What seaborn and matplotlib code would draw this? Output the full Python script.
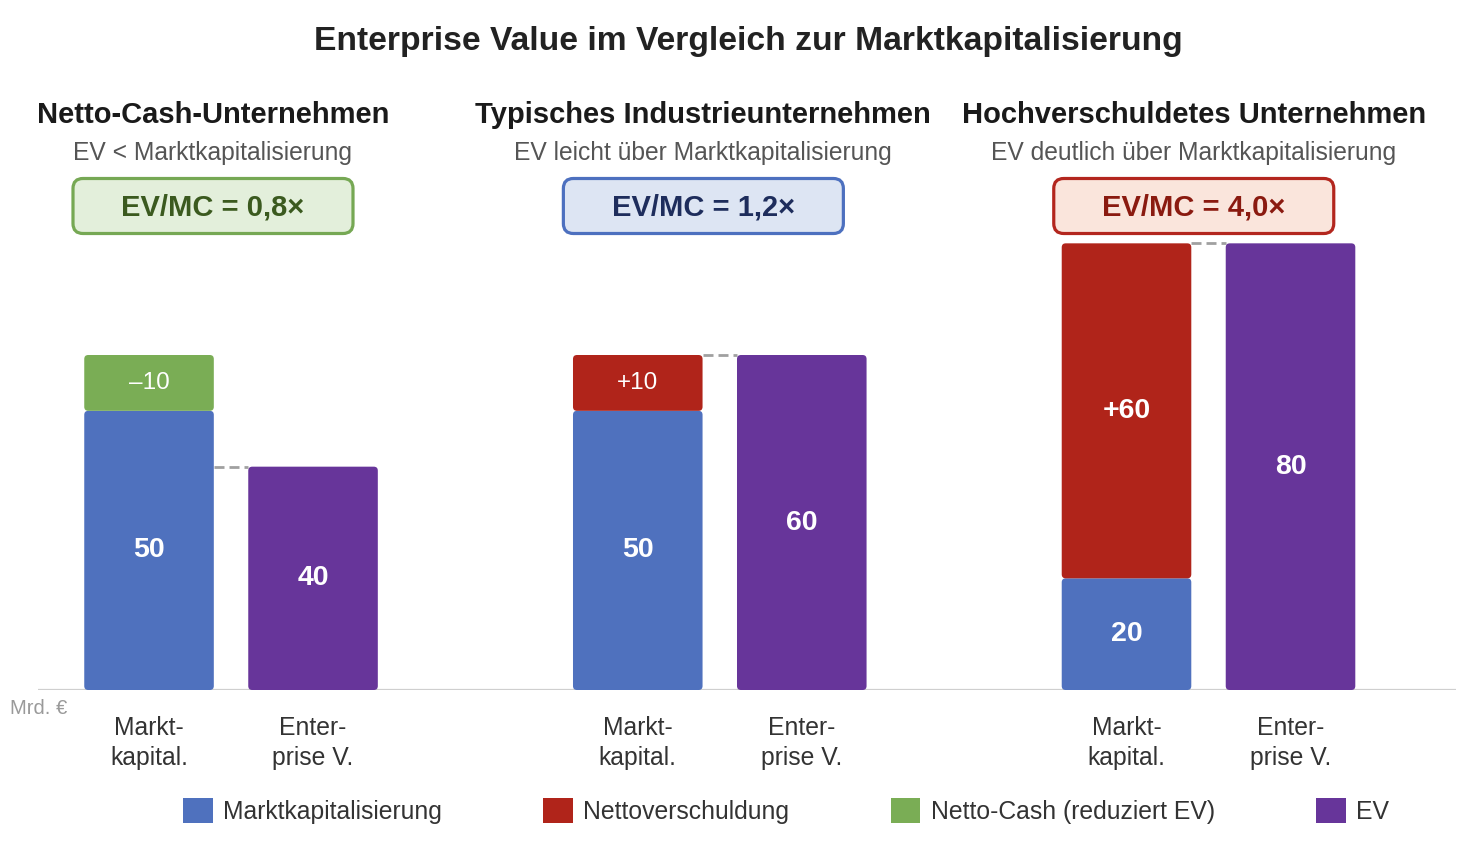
import numpy as np
import pandas as pd
import seaborn as sns
import matplotlib.pyplot as plt
from matplotlib.patches import FancyBboxPatch, Patch

GROUPS = ["Netto-Cash-Unternehmen", "Typisches Industrieunternehmen", "Hochverschuldetes Unternehmen"]
SUBTITLES = ["EV < Marktkapitalisierung", "EV leicht über Marktkapitalisierung",
             "EV deutlich über Marktkapitalisierung"]
RATIOS = ["EV/MC = 0,8×", "EV/MC = 1,2×", "EV/MC = 4,0×"]
MARKET_CAP = [50, 50, 20]
NET_DEBT = [-10, 10, 60]
EV = [40, 60, 80]
BAR_LABELS = ["Markt-\nkapital.", "Enter-\nprise V."]
SERIES = ["Marktkapitalisierung", "Nettoverschuldung", "Netto-Cash (reduziert EV)", "EV"]

COLORS = {
    "Marktkapitalisierung": "#4F71BE",
    "Nettoverschuldung": "#B0241A",
    "Netto-Cash (reduziert EV)": "#7AAD55",
    "EV": "#67359A",
}
# fill, edge, text colour of the EV/MC boxes
BOX_COLORS = [("#E3EFDB", "#76A854", "#3B5A1F"),
              ("#DDE5F3", "#4D70BF", "#1E2D5C"),
              ("#FAE5DC", "#B3261E", "#8A1A10")]

GROUP_STEP = 2.98
BAR_W = 0.79

sns.set_theme(style="white")
plt.rcParams["font.family"] = ["Liberation Sans", "DejaVu Sans"]

fig = plt.figure(figsize=(14.76, 8.56), dpi=100)
ax = fig.add_axes([38 / 1476, 166 / 856, 1418 / 1476, 603 / 856])

mc_x = [g * GROUP_STEP for g in range(3)]
ev_x = [g * GROUP_STEP + 1 for g in range(3)]
df = pd.DataFrame({
    "x": mc_x + ev_x,
    "value": MARKET_CAP + EV,
    "kind": ["Marktkapitalisierung"] * 3 + ["EV"] * 3,
})
sns.barplot(data=df, x="x", y="value", hue="kind", palette=COLORS, native_scale=True,
            width=BAR_W, dodge=False, legend=False, saturation=1, linewidth=0, ax=ax)

# stacked net debt / net cash segment on top of market cap
for g in range(3):
    kind = "Netto-Cash (reduziert EV)" if NET_DEBT[g] < 0 else "Nettoverschuldung"
    ax.bar(mc_x[g], abs(NET_DEBT[g]), bottom=MARKET_CAP[g], width=BAR_W,
           color=COLORS[kind], linewidth=0)

ax.set_xlim(-0.677, 7.969)
ax.set_ylim(0, 108)
sns.despine(ax=ax, left=True, bottom=True)
ax.set_yticks([])
ax.set_xlabel("")
ax.set_ylabel("")
ax.axhline(0, color="#CFCFCF", lw=1.6, zorder=1)

# px per data unit, for rounded shapes
px_x = 1418 / (ax.get_xlim()[1] - ax.get_xlim()[0])
px_y = 603 / 108
asp = px_x / px_y

for p in list(ax.patches):
    x, y = p.get_x(), p.get_y()
    w, h = p.get_width(), p.get_height()
    fc = p.get_facecolor()
    p.remove()
    ax.add_patch(FancyBboxPatch((x, y), w, h, boxstyle=f"round,pad=0,rounding_size={4 / px_x}",
                                mutation_aspect=asp, fc=fc, ec="none", zorder=2))

ticks = sorted(mc_x + ev_x)
ax.set_xticks(ticks)
ax.set_xticklabels(BAR_LABELS * 3, fontsize=17.8, color="#333333", linespacing=1.3)
ax.tick_params(axis="x", length=0, pad=19)

for g in range(3):
    # value labels
    ax.text(mc_x[g], MARKET_CAP[g] / 2, str(MARKET_CAP[g]), ha="center", va="center",
            color="white", fontsize=20.5, fontweight="bold", zorder=3)
    ax.text(ev_x[g], EV[g] / 2, str(EV[g]), ha="center", va="center",
            color="white", fontsize=20.5, fontweight="bold", zorder=3)
    nd = NET_DEBT[g]
    seg_label = f"–{abs(nd)}" if nd < 0 else f"+{nd}"
    big = abs(nd) >= 20
    ax.text(mc_x[g], MARKET_CAP[g] + abs(nd) / 2, seg_label, ha="center", va="center",
            color="white", fontsize=20.5 if big else 17.5,
            fontweight="bold" if big else "normal", zorder=3)

    # dashed connector at EV level
    ax.plot([mc_x[g] + BAR_W / 2, ev_x[g] - BAR_W / 2], [EV[g], EV[g]], color="#A0A0A0",
            lw=2, ls=(0, (3.6, 1.8)), zorder=1)

    # panel headings
    cx = mc_x[g] + 0.5 - 0.11 + 0.01 * g
    ax.text(cx, 102.9, GROUPS[g], ha="center", va="center", fontsize=21,
            fontweight="bold", color="#1A1A1A")
    ax.text(cx, 96.2, SUBTITLES[g], ha="center", va="center", fontsize=17.7, color="#555555")

    fill, edge, tcol = BOX_COLORS[g]
    bw, bh = 280 / px_x, 55 / px_y
    cy = (690 - 206) / px_y
    ax.add_patch(FancyBboxPatch((cx - bw / 2, cy - bh / 2), bw, bh,
                                boxstyle=f"round,pad=0,rounding_size={10 / px_x}",
                                mutation_aspect=asp, fc=fill, ec=edge, lw=2.3, zorder=2))
    ax.text(cx, cy - 0.3, RATIOS[g], ha="center", va="center", fontsize=21,
            fontweight="bold", color=tcol, zorder=3)

fig.text(0.507, 0.951, "Enterprise Value im Vergleich zur Marktkapitalisierung",
         ha="center", va="center", fontsize=24.2, fontweight="bold", color="#222222")
fig.text(10 / 1476, (856 - 708) / 856, "Mrd. €", ha="left", va="center",
         fontsize=14.5, color="#9A9A9A")

handles = [Patch(facecolor=COLORS[s], edgecolor="none", label=s) for s in SERIES]
fig.legend(handles=handles, loc="center", bbox_to_anchor=(786 / 1476, (856 - 811) / 856),
           ncol=4, frameon=False, fontsize=17.8, handlelength=1.2, handleheight=1.15,
           handletextpad=0.42, columnspacing=4.1, labelcolor="#333333")

fig.savefig("out.png", dpi=100)
